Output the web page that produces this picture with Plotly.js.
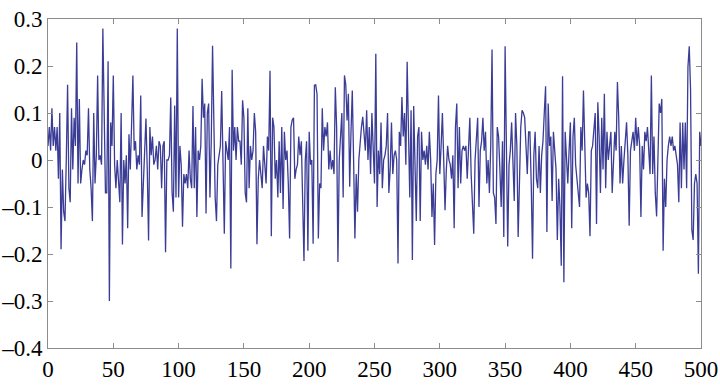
<!DOCTYPE html>
<html>
<head>
<meta charset="utf-8">
<script src="https://cdn.plot.ly/plotly-3.0.1.min.js"></script>
<style>
  html, body { margin: 0; padding: 0; background: #fff; }
  #chart { width: 720px; height: 389px; }
</style>
</head>
<body>
<div id="chart"></div>
<script>
// Signal values, sample 0..500
const signal = [
  0.03, 0.07, 0.02, 0.11, 0.03, 0.07, 0.02, 0.07, -0.04, 0.10,
  -0.19, -0.02, -0.11, -0.13, 0.00, 0.16, -0.06, -0.09, 0.11, -0.02,
  0.09, 0.03, 0.25, -0.05, 0.13, -0.05, -0.02, 0.00, -0.01, 0.02,
  0.01, 0.11, -0.02, -0.06, -0.13, 0.10, -0.05, 0.01, 0.18, 0.00,
  0.01, -0.01, 0.28, 0.06, -0.07, -0.07, 0.21, -0.30, 0.08, 0.03,
  0.18, -0.01, -0.06, 0.00, -0.04, -0.09, 0.10, -0.18, 0.00, -0.05,
  0.01, -0.145, 0.055, -0.02, 0.075, 0.18, 0.02, 0.04, -0.02, 0.01,
  -0.01, 0.137, -0.121, -0.06, 0.00, 0.088, -0.02, -0.171, 0.07, 0.01,
  0.05, -0.01, 0.00, 0.03, -0.02, 0.04, 0.03, -0.06, 0.03, 0.04,
  -0.196, 0.00, 0.00, 0.01, 0.133, -0.068, -0.11, 0.116, -0.08, 0.28,
  -0.08, 0.03, -0.01, -0.142, -0.03, -0.05, -0.03, -0.06, 0.02, -0.04,
  -0.06, 0.115, -0.06, 0.07, -0.121, 0.02, 0.00, 0.03, 0.173, 0.09,
  0.12, -0.114, 0.10, 0.12, -0.08, 0.04, 0.243, 0.05, -0.08, -0.13,
  -0.01, 0.01, 0.03, 0.147, 0.00, -0.157, 0.04, 0.02, 0.00, 0.07,
  -0.231, 0.192, 0.02, 0.07, 0.00, 0.07, 0.04, 0.04, -0.01, 0.127,
  0.09, -0.07, -0.09, 0.11, -0.06, 0.03, 0.00, 0.02, 0.10, 0.06,
  -0.179, -0.04, 0.00, -0.03, -0.06, 0.03, -0.01, -0.05, 0.05, 0.02,
  0.19, -0.162, 0.09, 0.07, -0.04, 0.00, -0.08, 0.04, -0.07, 0.07,
  -0.104, 0.06, 0.00, 0.02, -0.05, -0.167, 0.07, 0.085, 0.09, -0.04,
  -0.02, -0.01, 0.05, 0.01, 0.04, -0.124, -0.215, 0.00, 0.04, -0.193,
  0.06, -0.01, 0.00, -0.178, 0.159, 0.16, 0.14, -0.167, -0.05, -0.06,
  0.11, 0.02, 0.07, 0.05, 0.08, -0.02, 0.02, -0.02, 0.00, -0.03,
  0.155, 0.07, -0.217, 0.00, 0.06, 0.10, -0.08, 0.18, 0.16, 0.084,
  0.141, -0.057, 0.06, 0.148, 0.00, -0.167, -0.03, -0.11, 0.00, 0.04,
  0.07, 0.092, 0.06, 0.02, 0.106, 0.00, 0.07, -0.03, 0.10, 0.04,
  -0.05, 0.226, -0.10, 0.02, -0.03, 0.08, -0.06, 0.00, 0.01, 0.03,
  0.10, -0.07, -0.02, 0.08, -0.03, 0.01, 0.02, 0.00, -0.22, 0.06,
  0.03, 0.134, 0.05, 0.10, -0.01, 0.209, 0.03, -0.08, 0.106, -0.213,
  0.115, -0.045, -0.13, 0.05, 0.07, -0.13, 0.06, 0.00, 0.02, -0.01,
  0.03, -0.02, 0.06, 0.00, -0.121, -0.05, -0.181, -0.03, 0.00, 0.137,
  -0.03, 0.03, 0.10, 0.00, -0.107, -0.02, 0.03, 0.00, -0.01, -0.04,
  0.01, -0.145, 0.07, 0.12, -0.06, 0.07, -0.05, 0.02, 0.03, 0.02,
  0.03, -0.04, 0.05, 0.09, -0.03, -0.10, -0.157, 0.00, 0.04, 0.09,
  -0.10, 0.02, 0.04, 0.09, 0.02, 0.06, -0.05, 0.00, -0.07, 0.03,
  0.235, -0.07, -0.08, -0.136, 0.07, 0.05, -0.02, -0.10, 0.04, -0.164,
  0.242, -0.03, -0.184, -0.01, 0.02, 0.08, -0.02, -0.087, 0.10, 0.03,
  -0.164, 0.00, 0.07, 0.106, 0.10, 0.09, 0.04, -0.03, 0.06, 0.06,
  -0.05, -0.21, 0.01, 0.06, -0.04, -0.06, 0.03, -0.07, 0.01, 0.04,
  0.10, 0.157, -0.153, 0.12, 0.03, 0.05, -0.087, 0.06, 0.02, -0.02,
  -0.17, -0.04, -0.10, -0.225, 0.178, -0.26, 0.06, -0.01, -0.05, 0.02,
  0.08, -0.145, 0.05, 0.09, -0.01, -0.04, -0.08, -0.10, 0.07, 0.02,
  0.148, 0.05, -0.08, -0.05, -0.07, -0.162, 0.02, 0.03, 0.07, 0.10,
  -0.136, 0.123, 0.05, -0.07, 0.09, -0.02, 0.141, -0.06, 0.06, 0.00,
  0.03, 0.06, -0.07, 0.00, 0.06, 0.02, 0.166, 0.09, -0.05, 0.03,
  -0.05, 0.00, 0.04, 0.08, 0.01, -0.14, 0.02, 0.04, 0.06, 0.02,
  0.09, 0.03, 0.07, 0.03, -0.121, 0.03, -0.02, 0.06, 0.04, 0.07,
  0.03, -0.03, 0.18, -0.03, 0.05, -0.07, -0.12, 0.02, 0.12, 0.10,
  0.13, -0.193, -0.04, -0.10, 0.00, 0.03, 0.05, 0.03, 0.05, 0.02,
  0.03, 0.01, -0.01, -0.09, 0.08, -0.06, 0.08, -0.02, 0.08, -0.06,
  0.198, 0.242, 0.15, -0.149, -0.17, -0.05, -0.03, -0.05, -0.242, 0.06,
  0.03
];
const samples = signal.map((_, i) => i);

const xTicks = [0, 50, 100, 150, 200, 250, 300, 350, 400, 450, 500];
const yTicks = [-0.4, -0.3, -0.2, -0.1, 0, 0.1, 0.2, 0.3];

// serif labels, MATLAB-like
const FONT = { family: 'Liberation Serif', size: 23, color: '#000' };

const axisBase = {
  showline: true,
  linecolor: '#8c8c8c',
  linewidth: 1,
  mirror: 'ticks',
  ticks: 'inside',
  ticklen: 5,
  tickcolor: '#8c8c8c',
  showgrid: false,
  zeroline: false,
  tickfont: FONT,
  fixedrange: true,
};

const trace = {
  x: samples,
  y: signal,
  type: 'scatter',
  mode: 'lines',
  line: { color: '#3a3c96', width: 1.3 },
  hoverinfo: 'skip',
};

const layout = {
  width: 720,
  height: 389,
  margin: { t: 19, r: 19, b: 41, l: 48 },
  paper_bgcolor: '#fff',
  plot_bgcolor: '#fff',
  showlegend: false,
  font: FONT,
  xaxis: { ...axisBase, range: [0, 500], tickvals: xTicks, ticktext: xTicks.map(String), ticklabelstandoff: 0 },
  yaxis: {
    ...axisBase,
    range: [-0.4, 0.3],
    tickvals: yTicks,
    ticktext: yTicks.map(v => (v < 0 ? '\u2013' : '') + (v === 0 ? '0' : Math.abs(v).toFixed(1))),
    ticklabelstandoff: 0,
  },
};

Plotly.newPlot('chart', [trace], layout, { staticPlot: true, displayModeBar: false });
</script>
</body>
</html>
